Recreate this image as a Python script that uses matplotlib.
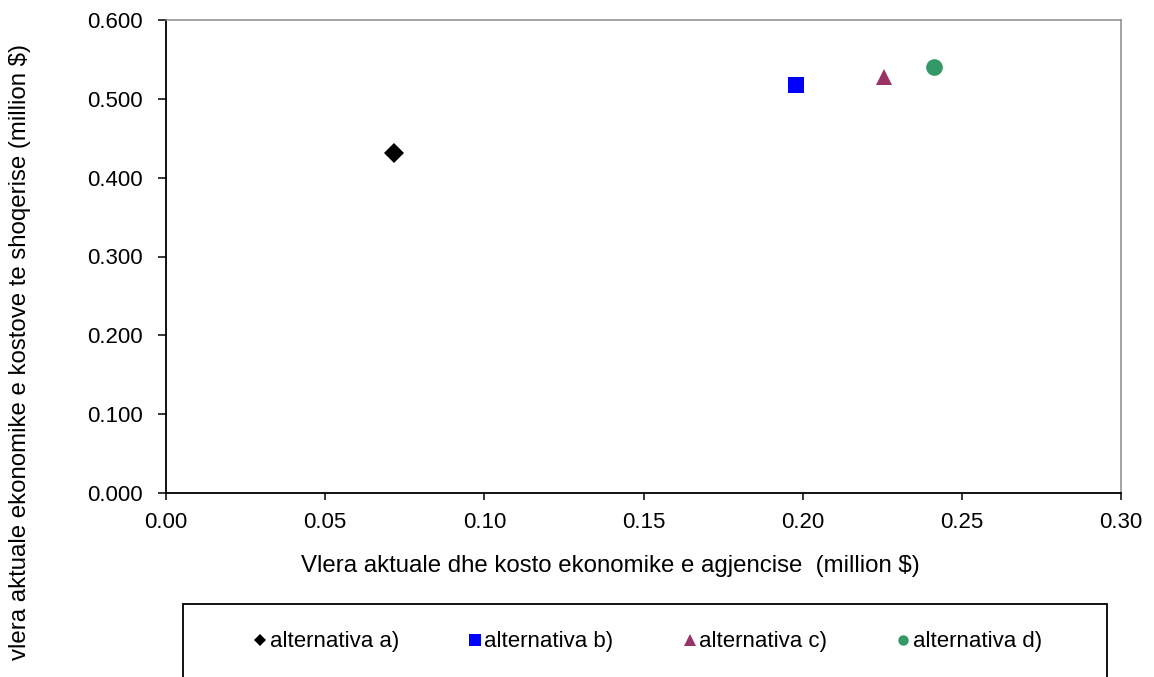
import matplotlib
matplotlib.use("Agg")
import matplotlib.pyplot as plt
from matplotlib.patches import Rectangle
from matplotlib.lines import Line2D
from matplotlib.ticker import FormatStrFormatter

plt.rcParams['font.family'] = ['Liberation Sans', 'DejaVu Sans']

# Present value of agency cost vs. present value of social cost (million $)
labels = ["alternativa a)", "alternativa b)", "alternativa c)", "alternativa d)"]
agency_cost = [0.0716, 0.1979, 0.2256, 0.2413]
social_cost = [0.431, 0.518, 0.528, 0.541]
markers = ["D", "s", "^", "o"]
colors = ["#000000", "#0000FF", "#993366", "#339966"]
plot_sizes = [9.8, 11.5, 12, 12]
legend_sizes = [6, 8, 8.5, 7.5]

x_ticks = [0.00, 0.05, 0.10, 0.15, 0.20, 0.25, 0.30]
y_ticks = [0.0, 0.1, 0.2, 0.3, 0.4, 0.5, 0.6]

W, H = 1154, 677
fig = plt.figure(figsize=(W / 100, H / 100), dpi=100)
ax = fig.add_axes([166 / W, 1 - 493 / H, (1121 - 166) / W, (493 - 20) / H])

handles = []
for x, y, m, c, s, ls, lab in zip(agency_cost, social_cost, markers, colors,
                                  plot_sizes, legend_sizes, labels):
    ax.plot([x], [y], linestyle="none", marker=m, color=c, markersize=s,
            markeredgewidth=0, clip_on=False)
    handles.append(Line2D([], [], linestyle="none", marker=m, color=c,
                          markersize=ls, markeredgewidth=0, label=lab))

ax.set_xlim(0, 0.30)
ax.set_ylim(0, 0.60)
ax.set_xticks(x_ticks)
ax.set_yticks(y_ticks)
ax.xaxis.set_major_formatter(FormatStrFormatter("%.2f"))
ax.yaxis.set_major_formatter(FormatStrFormatter("%.3f"))
ax.tick_params(axis="both", direction="out", labelsize=16, colors="#000000",
               width=1.1)
ax.tick_params(axis="y", length=5.8, pad=11)
ax.tick_params(axis="x", length=5, pad=9)

for side in ("left", "bottom"):
    ax.spines[side].set_color("#000000")
    ax.spines[side].set_linewidth(1.3)
for side in ("top", "right"):
    ax.spines[side].set_color("#8c8c8c")
    ax.spines[side].set_linewidth(1.1)

fig.text(610 / W, 1 - 566 / H, "Vlera aktuale dhe kosto ekonomike e agjencise  (million $)",
         ha="center", va="center", fontsize=17.3)
fig.text(20 / W, 1 - 352 / H, "vlera aktuale ekonomike e kostove te shoqerise (million $)",
         ha="center", va="center", rotation=90, fontsize=17.3)

# Legend box, running past the lower edge of the figure
fig.patches.append(Rectangle((183 / W, 1 - 700 / H), (1107 - 183) / W, (700 - 604) / H,
                             transform=fig.transFigure, fill=False,
                             edgecolor="#000000", linewidth=1.3, clip_on=False))
fig.legend(handles=handles, loc="center", bbox_to_anchor=(648 / W, 1 - 642 / H),
           ncol=4, frameon=False, fontsize=16, handlelength=0.55,
           handletextpad=0.15, columnspacing=3.15, borderaxespad=0,
           borderpad=0)

fig.savefig("out.png", dpi=100)
